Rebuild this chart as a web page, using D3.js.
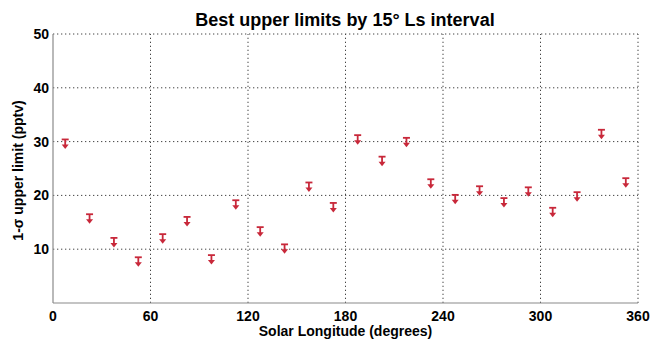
<!DOCTYPE html>
<html>
<head>
<meta charset="utf-8">
<script src="https://cdn.jsdelivr.net/npm/d3@7"></script>
<style>
  body { margin: 0; background: #fff; }
  svg text { font-family: "Liberation Sans", Arial, sans-serif; font-weight: bold; fill: #000; }
</style>
</head>
<body>
<div id="chart"></div>
<script>
// solar longitude bin centres (15 deg intervals)
const ls = [7.5, 22.5, 37.5, 52.5, 67.5, 82.5, 97.5, 112.5, 127.5, 142.5, 157.5, 172.5,
            187.5, 202.5, 217.5, 232.5, 247.5, 262.5, 277.5, 292.5, 307.5, 322.5, 337.5, 352.5];
// 1-sigma upper limits (pptv)
const upperLimit = [30.4, 16.5, 12.1, 8.5, 12.8, 16.0, 8.9, 19.1, 14.1, 10.9, 22.4, 18.6,
                    31.2, 27.2, 30.7, 23.0, 20.1, 21.7, 19.5, 21.5, 17.7, 20.6, 32.2, 23.2];
const xTicks = [0, 60, 120, 180, 240, 300, 360];
const yTicks = [10, 20, 30, 40, 50];

const W = 652, H = 339;
const margin = { top: 34, right: 14, bottom: 36, left: 53 };
const width = W - margin.left - margin.right;
const height = H - margin.top - margin.bottom;

const svg = d3.select("#chart").append("svg")
  .attr("width", W).attr("height", H);

const x = d3.scaleLinear().domain([0, 360]).range([margin.left, margin.left + width]);
const y = d3.scaleLinear().domain([0, 50]).range([margin.top + height, margin.top]);

// dotted grid (also forms the top and right edge)
svg.append("g").selectAll("line")
  .data(xTicks.slice(1))
  .join("line")
  .attr("x1", d => x(d)).attr("x2", d => x(d))
  .attr("y1", y(0)).attr("y2", y(50))
  .attr("stroke", "#444").attr("stroke-width", 1)
  .attr("stroke-dasharray", "1.3,2.7");

svg.append("g").selectAll("line")
  .data(yTicks)
  .join("line")
  .attr("x1", x(0)).attr("x2", x(360))
  .attr("y1", d => y(d)).attr("y2", d => y(d))
  .attr("stroke", "#444").attr("stroke-width", 1)
  .attr("stroke-dasharray", "1.3,2.7");

// left and bottom axis lines
svg.append("line")
  .attr("x1", x(0)).attr("x2", x(0)).attr("y1", y(0)).attr("y2", y(50))
  .attr("stroke", "#8a8a8a").attr("stroke-width", 1.2);
svg.append("line")
  .attr("x1", x(0)).attr("x2", x(360)).attr("y1", y(0)).attr("y2", y(0))
  .attr("stroke", "#8a8a8a").attr("stroke-width", 1.2);

// tick labels
svg.append("g").selectAll("text")
  .data(xTicks)
  .join("text")
  .attr("x", d => x(d)).attr("y", y(0) + 18)
  .attr("text-anchor", "middle")
  .attr("font-size", 14)
  .text(d => d);

svg.append("g").selectAll("text")
  .data(yTicks)
  .join("text")
  .attr("x", x(0) - 4).attr("y", d => y(d) + 5)
  .attr("text-anchor", "end")
  .attr("font-size", 14)
  .text(d => d);

// titles
svg.append("text")
  .attr("x", 345).attr("y", 26)
  .attr("text-anchor", "middle")
  .attr("font-size", 18)
  .text("Best upper limits by 15\u00b0 Ls interval");

svg.append("text")
  .attr("x", x(180)).attr("y", 335.5)
  .attr("text-anchor", "middle")
  .attr("font-size", 14)
  .text("Solar Longitude (degrees)");

svg.append("text")
  .attr("transform", `translate(23,${(y(0) + y(50)) / 2 + 2}) rotate(-90)`)
  .attr("text-anchor", "middle")
  .attr("font-size", 14)
  .text("1-\u03c3 upper limit (pptv)");

// upper limit markers: bar + stem + arrow head
const red = "#c8283a";
const pts = ls.map((d, i) => ({ ls: d, v: upperLimit[i] }));
const mk = svg.append("g").selectAll("g")
  .data(pts)
  .join("g")
  .attr("transform", d => `translate(${x(d.ls)},${y(d.v)})`);

mk.append("line")
  .attr("x1", -3.5).attr("x2", 3.5).attr("y1", 0).attr("y2", 0)
  .attr("stroke", red).attr("stroke-width", 1.8);
mk.append("line")
  .attr("x1", 0).attr("x2", 0).attr("y1", 0).attr("y2", 6)
  .attr("stroke", red).attr("stroke-width", 1.8);
mk.append("path")
  .attr("d", "M-3.5,5 L3.5,5 L0,9.5 Z")
  .attr("fill", red);
</script>
</body>
</html>
